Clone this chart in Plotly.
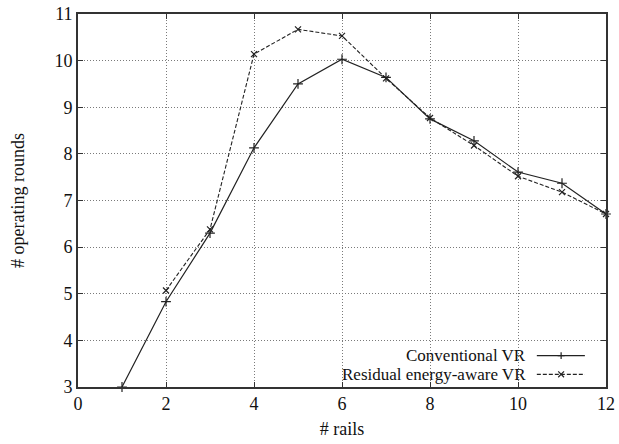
import plotly.graph_objects as go

# Number of rails
rails = [1, 2, 3, 4, 5, 6, 7, 8, 9, 10, 11, 12]
rails_residual = [2, 3, 4, 5, 6, 7, 8, 9, 10, 11, 12]

# Operating rounds for each routing scheme
conventional_vr = [3.0, 4.83, 6.30, 8.13, 9.50, 10.03, 9.64, 8.75, 8.28, 7.61, 7.37, 6.71]
residual_vr = [5.07, 6.38, 10.14, 10.67, 10.53, 9.62, 8.77, 8.18, 7.52, 7.18, 6.71]

legend_labels = ["Conventional VR", "Residual energy-aware VR"]

x_ticks = [0, 2, 4, 6, 8, 10, 12]
y_ticks = [3, 4, 5, 6, 7, 8, 9, 10, 11]

FONT = "Liberation Serif"
INK = "#222222"
TEXT = "#111111"

fig = go.Figure()

fig.add_trace(go.Scatter(
    x=rails, y=conventional_vr, mode="lines+markers",
    name=legend_labels[0],
    line=dict(color=INK, width=1.2),
    marker=dict(symbol="cross-thin", size=7, line=dict(color=INK, width=1.2)),
    cliponaxis=False, showlegend=False,
))
fig.add_trace(go.Scatter(
    x=rails_residual, y=residual_vr, mode="lines+markers",
    name=legend_labels[1],
    line=dict(color=INK, width=1.1, dash="4px,2px"),
    marker=dict(symbol="x-thin", size=6, line=dict(color=INK, width=1.2)),
    cliponaxis=False, showlegend=False,
))

# Key box in the lower right corner, drawn above the grid but under the curves
shapes = [dict(type="rect", xref="paper", yref="paper", x0=0.477, x1=1.0, y0=0.0, y1=0.115,
               fillcolor="white", line=dict(width=0), layer="between")]
annotations = []

rows = [0.084, 0.034]
dashes = ["solid", "4px,2px"]
for label, yrow, dash in zip(legend_labels, rows, dashes):
    annotations.append(dict(
        x=0.852, y=yrow, xref="paper", yref="paper", text=label, showarrow=False,
        xanchor="right", yanchor="middle", font=dict(family=FONT, size=17, color=TEXT),
    ))
    shapes.append(dict(type="line", xref="paper", yref="paper", x0=0.869, x1=0.960,
                       y0=yrow, y1=yrow, line=dict(color=INK, width=1.2, dash=dash)))

# Sample glyphs in the key: a plus and a cross
mx, dx, dy = 0.915, 0.0066, 0.0092
shapes.append(dict(type="path", xref="paper", yref="paper",
                   path=f"M {mx-dx},{rows[0]} L {mx+dx},{rows[0]} M {mx},{rows[0]-dy} L {mx},{rows[0]+dy}",
                   line=dict(color=INK, width=1.2)))
ex, ey = 0.0055, 0.0078
shapes.append(dict(type="path", xref="paper", yref="paper",
                   path=f"M {mx-ex},{rows[1]-ey} L {mx+ex},{rows[1]+ey} M {mx-ex},{rows[1]+ey} L {mx+ex},{rows[1]-ey}",
                   line=dict(color=INK, width=1.2)))

axis_common = dict(
    showgrid=True, gridcolor="#7a7a7a", gridwidth=1, griddash="1px,2px",
    showline=True, linecolor="#333333", linewidth=1.6, mirror="ticks",
    ticks="inside", ticklen=5, tickcolor="#333333", tickwidth=1,
    zeroline=False, automargin=False,
    tickfont=dict(family=FONT, size=18, color=TEXT),
)

fig.update_layout(
    width=619, height=444,
    margin=dict(l=78, r=13, t=14, b=57),
    paper_bgcolor="white", plot_bgcolor="white",
    font=dict(family=FONT, color=TEXT),
    xaxis=dict(range=[0, 12], tickvals=x_ticks, ticktext=[str(v) for v in x_ticks],
               title=dict(text="# rails", font=dict(family=FONT, size=18, color=TEXT), standoff=9),
               **axis_common),
    yaxis=dict(range=[3, 11], tickvals=y_ticks, ticktext=[str(v) for v in y_ticks],
               title=dict(text="# operating rounds", font=dict(family=FONT, size=18, color=TEXT), standoff=25),
               **axis_common),
    shapes=shapes,
    annotations=annotations,
    showlegend=False,
)

fig.write_html("out.html")
